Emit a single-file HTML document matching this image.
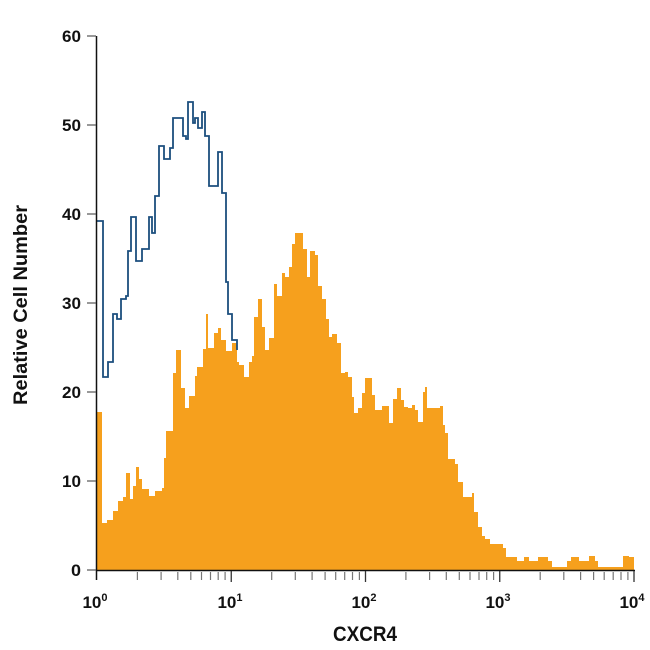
<!DOCTYPE html>
<html><head><meta charset="utf-8"><style>
html,body{margin:0;padding:0;background:#fff;}
svg{display:block;}
text{font-family:"Liberation Sans",sans-serif;font-weight:bold;fill:#111;}
</style></head><body>
<svg width="650" height="650" viewBox="0 0 650 650" xmlns="http://www.w3.org/2000/svg">
<path fill="#f6a01d" stroke="none" d="M97,570 V412 H102 V523 H107 V520 H113 V511 H118 V501 H123 V497 H126 V473 H130 V499 H133 V486 H136 V467 H139 V479 H142 V489 H149 V496 H155 V491 H162 V488 H164 V458 H166 V431 H173 V373 H176 V350 H181 V388 H185 V408 H189 V396 H195 V376 H197 V367 H203 V349 H206 V314 H208 V348 H214 V333 H218 V328 H221 V340 H226 V351 H232 V343 H237 V362 H239 V365 H244 V377 H249 V362 H252 V356 H254 V317 H258 V299 H262 V327 H265 V350 H269 V338 H274 V284 H277 V296 H282 V273 H285 V277 H289 V267 H292 V244 H295 V233 H303 V249 H307 V277 H310 V251 H315 V255 H318 V286 H322 V299 H326 V319 H329 V337 H332 V334 H337 V343 H341 V373 H345 V372 H348 V377 H352 V397 H354 V413 H358 V408 H362 V393 H365 V378 H372 V395 H375 V410 H382 V406 H389 V423 H393 V399 H397 V388 H401 V400 H404 V407 H408 V408 H412 V405 H415 V410 H418 V422 H423 V392 H425 V387 H427 V408 H440 V406 H443 V425 H445 V433 H448 V459 H455 V464 H458 V482 H463 V497 H472 V493 H474 V512 H478 V527 H482 V536 H485 V539 H490 V544 H503 V548 H506 V557 H517 V561 H524 V557 H529 V561 H538 V557 H548 V561 H552 V567 H567 V561 H571 V557 H579 V561 H589 V556 H595 V561 H598 V567 H623 V556 H629 V557 H634 V570 Z"/>
<path fill="none" stroke="#1c4f7e" stroke-width="1.8" d="M97,221 H103 V377 H108 V362 H113 V314 H117 V319 H121 V299 H126 V296 H128 V251 H131 V217 H136 V261 H142 V249 H149 V217 H152 V233 H155 V196 H159 V146 H164 V159 H170 V148 H173 V118 H183 V136 H186 V139 H188 V102 H193 V123 H195 V118 H198 V128 H202 V112 H205 V136 H209 V186 H218 V152 H222 V193 H226 V282 H228 V314 H232 V340 H237 V350"/>
<g stroke="#111" stroke-width="1.5">
<line x1="96.5" y1="36" x2="96.5" y2="580"/>
<line x1="96" y1="570.5" x2="635" y2="570.5"/>
</g>
<g stroke="#555" stroke-width="1.2">
<line x1="87" y1="570" x2="96" y2="570"/>
<line x1="87" y1="481" x2="96" y2="481"/>
<line x1="87" y1="392" x2="96" y2="392"/>
<line x1="87" y1="303" x2="96" y2="303"/>
<line x1="87" y1="214" x2="96" y2="214"/>
<line x1="87" y1="125" x2="96" y2="125"/>
<line x1="87" y1="36" x2="96" y2="36"/>
</g>
<g stroke="#777" stroke-width="1.2">
<line x1="137.4" y1="572" x2="137.4" y2="580"/><line x1="161.1" y1="572" x2="161.1" y2="580"/><line x1="177.8" y1="572" x2="177.8" y2="580"/><line x1="190.8" y1="572" x2="190.8" y2="580"/><line x1="201.5" y1="572" x2="201.5" y2="580"/><line x1="210.5" y1="572" x2="210.5" y2="580"/><line x1="218.2" y1="572" x2="218.2" y2="580"/><line x1="225.1" y1="572" x2="225.1" y2="580"/>
<line x1="271.7" y1="572" x2="271.7" y2="580"/><line x1="295.3" y1="572" x2="295.3" y2="580"/><line x1="312.1" y1="572" x2="312.1" y2="580"/><line x1="325.1" y1="572" x2="325.1" y2="580"/><line x1="335.7" y1="572" x2="335.7" y2="580"/><line x1="344.7" y1="572" x2="344.7" y2="580"/><line x1="352.5" y1="572" x2="352.5" y2="580"/><line x1="359.4" y1="572" x2="359.4" y2="580"/>
<line x1="405.9" y1="572" x2="405.9" y2="580"/><line x1="429.6" y1="572" x2="429.6" y2="580"/><line x1="446.3" y1="572" x2="446.3" y2="580"/><line x1="459.3" y1="572" x2="459.3" y2="580"/><line x1="470" y1="572" x2="470" y2="580"/><line x1="479" y1="572" x2="479" y2="580"/><line x1="486.7" y1="572" x2="486.7" y2="580"/><line x1="493.6" y1="572" x2="493.6" y2="580"/>
<line x1="540.2" y1="572" x2="540.2" y2="580"/><line x1="563.8" y1="572" x2="563.8" y2="580"/><line x1="580.6" y1="572" x2="580.6" y2="580"/><line x1="593.6" y1="572" x2="593.6" y2="580"/><line x1="604.2" y1="572" x2="604.2" y2="580"/><line x1="613.2" y1="572" x2="613.2" y2="580"/><line x1="621" y1="572" x2="621" y2="580"/><line x1="627.9" y1="572" x2="627.9" y2="580"/>
</g>
<g stroke="#333" stroke-width="1.3">
<line x1="231.25" y1="571" x2="231.25" y2="582"/><line x1="365.5" y1="571" x2="365.5" y2="582"/><line x1="499.75" y1="571" x2="499.75" y2="582"/><line x1="634" y1="571" x2="634" y2="582"/>
</g>
<g font-size="17" text-anchor="end" font-weight="normal">
<text x="81" y="576" textLength="10" lengthAdjust="spacingAndGlyphs">0</text>
<text x="81" y="487" textLength="19" lengthAdjust="spacingAndGlyphs">10</text>
<text x="81" y="398" textLength="19" lengthAdjust="spacingAndGlyphs">20</text>
<text x="81" y="309" textLength="19" lengthAdjust="spacingAndGlyphs">30</text>
<text x="81" y="220" textLength="19" lengthAdjust="spacingAndGlyphs">40</text>
<text x="81" y="131" textLength="19" lengthAdjust="spacingAndGlyphs">50</text>
<text x="81" y="42" textLength="19" lengthAdjust="spacingAndGlyphs">60</text>
</g>
<g font-size="17" text-anchor="middle" font-weight="normal">
<text x="95" y="608">10<tspan font-size="11" dy="-7">0</tspan></text>
<text x="230" y="608">10<tspan font-size="11" dy="-7">1</tspan></text>
<text x="364" y="608">10<tspan font-size="11" dy="-7">2</tspan></text>
<text x="498" y="608">10<tspan font-size="11" dy="-7">3</tspan></text>
<text x="632" y="608">10<tspan font-size="11" dy="-7">4</tspan></text>
</g>
<text x="365" y="641" font-size="21" text-anchor="middle" textLength="64" lengthAdjust="spacingAndGlyphs">CXCR4</text>
<text transform="translate(27,305) rotate(-90)" font-size="19" text-anchor="middle" textLength="200" lengthAdjust="spacingAndGlyphs">Relative Cell Number</text>
</svg>
</body></html>
